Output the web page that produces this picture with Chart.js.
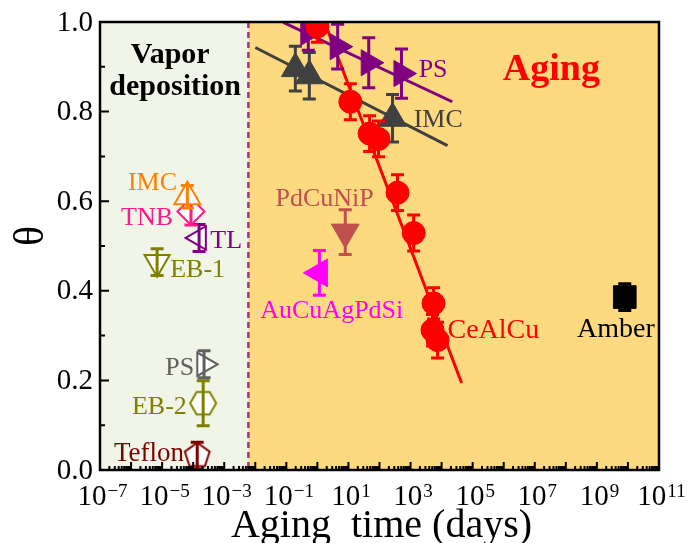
<!DOCTYPE html>
<html>
<head>
<meta charset="utf-8">
<script src="https://cdn.jsdelivr.net/npm/chart.js@4.4.0/dist/chart.umd.min.js"></script>
<style>
    html, body { margin: 0; padding: 0; background: #fff; }
</style>
</head>
<body>
<canvas id="chart" width="687" height="543"></canvas>
<script>
// ==========================
// DATA
// ==========================

const xLabelExps = [-7, -5, -3, -1, 1, 3, 5, 7, 9, 11];
const yTickValues = [0, 0.2, 0.4, 0.6, 0.8, 1.0];
const vaporEdge = 6e-3;

// aging, with fits
const ceAlCuTime = [1.0, 11.5, 48, 93, 380, 1260, 5500, 5100, 7400];
const ceAlCuTheta = [0.99, 0.822, 0.751, 0.739, 0.619, 0.529, 0.372, 0.312, 0.290];
const ceAlCuErr = [0.035, 0.04, 0.04, 0.04, 0.04, 0.04, 0.035, 0.035, 0.04];

const psAgeTime = [0.51, 4.5, 45, 510];
const psAgeTheta = [0.977, 0.945, 0.909, 0.885];
const psAgeErr = [0.04, 0.05, 0.056, 0.055];

const imcAgeTime = [0.195, 0.55, 263];
const imcAgeTheta = [0.896, 0.880, 0.785];
const imcAgeErr = [0.05, 0.052, 0.053];

const ceAlCuFitTime = [1.7, 4.4e4];
const ceAlCuFitTheta = [1.0, 0.194];
const psFitTime = [0.08, 2.2e4];
const psFitTheta = [0.999, 0.822];
const imcFitTime = [0.01, 1.55e4];
const imcFitTheta = [0.943, 0.724];

// aging, single points
const pdCuNiPTime = [7.9];
const pdCuNiPTheta = [0.531];
const pdCuNiPErr = [0.05];
const auCuTime = [1.16];
const auCuTheta = [0.44];
const auCuErr = [0.05];
const amberTime = [7.9e9];
const amberTheta = [0.386];
const amberErr = [0.03];

// vapor deposition
const vdImcTime = [6.5e-5];   const vdImcTheta = [0.61];   const vdImcErr = [0.025];
const vdTnbTime = [8.5e-5];   const vdTnbTheta = [0.577];  const vdTnbErr = [0.03];
const vdTlTime = [1.55e-4];   const vdTlTheta = [0.518];   const vdTlErr = [0.03];
const vdEb1Time = [6.9e-6];   const vdEb1Theta = [0.464];  const vdEb1Err = [0.03];
const vdPsTime = [2.24e-4];   const vdPsTheta = [0.236];   const vdPsErr = [0.03];
const vdEb2Time = [2.1e-4];   const vdEb2Theta = [0.149];  const vdEb2Err = [0.05];
const vdTeflonTime = [1.35e-4]; const vdTeflonTheta = [0.032]; const vdTeflonErr = [0.03];

// text labels: [text, log10(time) of left edge, theta of baseline, colour, size]
const seriesLabels = [
    ['IMC', -6.10, 0.625, '#ff8000', 26],
    ['TNB', -6.32, 0.547, '#ff1a8c', 26],
    ['TL', -3.45, 0.496, '#800080', 26],
    ['EB-1', -4.74, 0.431, '#808000', 26],
    ['PS', -4.90, 0.211, '#606060', 26],
    ['EB-2', -5.97, 0.126, '#808000', 26],
    ['Teflon', -6.55, 0.021, '#800000', 27],
    ['PdCuNiP', -1.35, 0.589, '#c0504d', 26],
    ['AuCuAgPdSi', -1.84, 0.339, '#ff00ff', 26],
    ['PS', 3.26, 0.878, '#800080', 26],
    ['IMC', 3.10, 0.766, '#404040', 26],
    ['CeAlCu', 4.19, 0.294, '#ff0000', 28],
    ['Amber', 8.36, 0.296, '#000000', 28]
];

const FONT = '"Liberation Serif", "Times New Roman", serif';

function pts(xs, ys) {
    return xs.map((x, i) => ({ x: x, y: ys[i] }));
}

// open polygon markers (hexagon / pentagon)
function polyImage(sides, r, stroke, rot) {
    const c = document.createElement('canvas');
    const s = Math.ceil(2 * r + 6);
    c.width = s;
    c.height = s;
    const g = c.getContext('2d');
    g.beginPath();
    for (let i = 0; i < sides; i++) {
        const a = rot + i * 2 * Math.PI / sides;
        const px = s / 2 + r * Math.cos(a);
        const py = s / 2 + r * Math.sin(a);
        if (i === 0) g.moveTo(px, py); else g.lineTo(px, py);
    }
    g.closePath();
    g.fillStyle = '#ffffff';
    g.fill();
    g.lineWidth = 2;
    g.strokeStyle = stroke;
    g.stroke();
    return c;
}

function marker(label, xs, ys, err, color, style, radius, rotation, open) {
    return {
        type: 'scatter',
        label: label,
        data: pts(xs, ys),
        err: err,
        barColor: color,
        pointStyle: style,
        pointRadius: radius,
        pointRotation: rotation,
        backgroundColor: open ? '#ffffff' : color,
        borderColor: color,
        borderWidth: open ? 2 : 1,
        clip: 0,
        order: 4
    };
}

function fitLine(label, xs, ys, color) {
    return {
        type: 'line',
        label: label,
        data: pts(xs, ys),
        borderColor: color,
        borderWidth: 3,
        pointRadius: 0,
        fill: false,
        clip: 0,
        order: 10
    };
}

// ==========================
// PLUGINS
// ==========================

const backdrop = {
    id: 'backdrop',
    beforeDatasetsDraw(chart) {
        const { ctx, chartArea: a, scales: { x } } = chart;
        const edge = x.getPixelForValue(vaporEdge);
        ctx.save();
        ctx.fillStyle = '#f0f5e8';
        ctx.fillRect(a.left, a.top, edge - a.left, a.bottom - a.top);
        ctx.fillStyle = '#fdd97f';
        ctx.fillRect(edge, a.top, a.right - edge, a.bottom - a.top);
        ctx.strokeStyle = '#b0307e';
        ctx.lineWidth = 2.5;
        ctx.setLineDash([6, 4]);
        ctx.beginPath();
        ctx.moveTo(edge, a.top);
        ctx.lineTo(edge, a.bottom);
        ctx.stroke();
        ctx.restore();
    }
};

const errorBars = {
    id: 'errorBars',
    afterDatasetDraw(chart, args) {
        const ds = chart.data.datasets[args.index];
        if (!ds.err) return;
        const { ctx, chartArea: a, scales: { x, y } } = chart;
        ctx.save();
        ctx.beginPath();
        ctx.rect(a.left, a.top, a.right - a.left, a.bottom - a.top);
        ctx.clip();
        ctx.strokeStyle = ds.barColor;
        ctx.lineWidth = 3;
        ds.data.forEach((p, i) => {
            const px = x.getPixelForValue(p.x);
            const y1 = y.getPixelForValue(p.y + ds.err[i]);
            const y2 = y.getPixelForValue(p.y - ds.err[i]);
            ctx.beginPath();
            ctx.moveTo(px, y1); ctx.lineTo(px, y2);
            ctx.moveTo(px - 6.5, y1); ctx.lineTo(px + 6.5, y1);
            ctx.moveTo(px - 6.5, y2); ctx.lineTo(px + 6.5, y2);
            ctx.stroke();
        });
        ctx.restore();
    }
};

const axesAndText = {
    id: 'axesAndText',
    afterDraw(chart) {
        const { ctx, chartArea: a, scales: { x, y } } = chart;
        ctx.save();

        // annotations
        ctx.textAlign = 'left';
        ctx.textBaseline = 'alphabetic';
        seriesLabels.forEach(l => {
            ctx.font = l[4] + 'px ' + FONT;
            ctx.fillStyle = l[3];
            ctx.fillText(l[0], x.getPixelForValue(Math.pow(10, l[1])), y.getPixelForValue(l[2]));
        });

        ctx.fillStyle = '#000';
        ctx.font = 'bold 30px ' + FONT;
        ctx.textAlign = 'center';
        ctx.fillText('Vapor', x.getPixelForValue(Math.pow(10, -4.74)), y.getPixelForValue(0.909));
        ctx.fillText('deposition', x.getPixelForValue(Math.pow(10, -4.58)), y.getPixelForValue(0.838));
        ctx.fillStyle = '#ff0000';
        ctx.font = 'bold 38px ' + FONT;
        ctx.textAlign = 'left';
        ctx.fillText('Aging', x.getPixelForValue(Math.pow(10, 5.97)), y.getPixelForValue(0.871));

        // inner ticks
        ctx.strokeStyle = '#000';
        ctx.lineWidth = 2;
        ctx.beginPath();
        for (let v = 0; v <= 10; v++) {
            const py = y.getPixelForValue(v / 10);
            const len = v % 2 === 0 ? 9 : 5;
            ctx.moveTo(a.left, py);
            ctx.lineTo(a.left + len, py);
        }
        for (let e = -7; e <= 11; e++) {
            const px = x.getPixelForValue(Math.pow(10, e));
            ctx.moveTo(px, a.bottom);
            ctx.lineTo(px, a.bottom - 8);
            if (e < 11) {
                for (let m = 2; m <= 9; m++) {
                    const mx = x.getPixelForValue(m * Math.pow(10, e));
                    ctx.moveTo(mx, a.bottom);
                    ctx.lineTo(mx, a.bottom - 4);
                }
            }
        }
        ctx.stroke();

        // frame
        ctx.lineWidth = 2.5;
        ctx.strokeRect(a.left, a.top, a.right - a.left, a.bottom - a.top);

        // y tick labels
        ctx.fillStyle = '#000';
        ctx.font = '29px ' + FONT;
        ctx.textAlign = 'right';
        ctx.textBaseline = 'middle';
        yTickValues.forEach(v => {
            ctx.fillText(v.toFixed(1), a.left - 7, y.getPixelForValue(v) + 1);
        });

        // x tick labels, 10 with raised exponent
        ctx.textAlign = 'left';
        ctx.textBaseline = 'alphabetic';
        xLabelExps.forEach(e => {
            const px = x.getPixelForValue(Math.pow(10, e));
            const expText = e < 0 ? '\u2212' + (-e) : String(e);
            ctx.font = '29px ' + FONT;
            const bw = ctx.measureText('10').width;
            ctx.font = '19px ' + FONT;
            const ew = ctx.measureText(expText).width;
            const start = px - (bw + ew) / 2 + 2;
            ctx.font = '29px ' + FONT;
            ctx.fillText('10', start, a.bottom + 35);
            ctx.font = '19px ' + FONT;
            ctx.fillText(expText, start + bw + 1, a.bottom + 27);
        });

        // axis titles
        ctx.font = '40px ' + FONT;
        ctx.textAlign = 'center';
        ctx.fillText('Aging  time (days)', (a.left + a.right) / 2 + 2, a.bottom + 67);

        ctx.translate(32, 236);
        ctx.rotate(-Math.PI / 2);
        ctx.font = '42px ' + FONT;
        ctx.textBaseline = 'middle';
        ctx.fillText('\u03b8', 0, 0);

        ctx.restore();
    }
};

// ==========================
// CHART
// ==========================

const ctx = document.getElementById('chart').getContext('2d');

const datasets = [
    Object.assign(marker('CeAlCu', ceAlCuTime, ceAlCuTheta, ceAlCuErr, '#ff0000', 'circle', 11.5, 0, false), { order: 1 }),
    Object.assign(marker('PS aging', psAgeTime, psAgeTheta, psAgeErr, '#800080', 'triangle', 15, 90, false), { order: 2 }),
    Object.assign(marker('IMC aging', imcAgeTime, imcAgeTheta, imcAgeErr, '#404040', 'triangle', 16, 0, false), { order: 3 }),
    marker('PdCuNiP', pdCuNiPTime, pdCuNiPTheta, pdCuNiPErr, '#c0504d', 'triangle', 16, 180, false),
    marker('AuCuAgPdSi', auCuTime, auCuTheta, auCuErr, '#ff00ff', 'triangle', 16, 270, false),
    marker('Amber', amberTime, amberTheta, amberErr, '#000000', 'rect', 16, 0, false),
    marker('IMC vd', vdImcTime, vdImcTheta, vdImcErr, '#ff8000', 'triangle', 15, 0, true),
    marker('TNB', vdTnbTime, vdTnbTheta, vdTnbErr, '#ff1a8c', 'rectRot', 13.5, 0, true),
    marker('TL', vdTlTime, vdTlTheta, vdTlErr, '#800080', 'triangle', 13.5, 270, true),
    marker('EB-1', vdEb1Time, vdEb1Theta, vdEb1Err, '#808000', 'triangle', 14.5, 180, true),
    marker('PS vd', vdPsTime, vdPsTheta, vdPsErr, '#606060', 'triangle', 13.5, 90, true),
    marker('EB-2', vdEb2Time, vdEb2Theta, vdEb2Err, '#808000', polyImage(6, 13, '#808000', 0), 13, 0, true),
    marker('Teflon', vdTeflonTime, vdTeflonTheta, vdTeflonErr, '#800000', polyImage(5, 13, '#800000', -Math.PI / 2), 13, 0, true),
    fitLine('CeAlCu fit', ceAlCuFitTime, ceAlCuFitTheta, '#ff0000'),
    fitLine('PS fit', psFitTime, psFitTheta, '#800080'),
    fitLine('IMC fit', imcFitTime, imcFitTheta, '#404040')
];

new Chart(ctx, {
    type: 'scatter',
    data: { datasets: datasets },
    options: {
        responsive: false,
        animation: false,
        events: [],
        layout: { padding: { left: 100, right: 28, top: 22, bottom: 73 } },
        plugins: {
            legend: { display: false },
            tooltip: { enabled: false }
        },
        scales: {
            x: { type: 'logarithmic', min: 1e-7, max: 1e11, display: false },
            y: { type: 'linear', min: 0, max: 1, display: false }
        }
    },
    plugins: [backdrop, errorBars, axesAndText]
});
</script>
</body>
</html>
